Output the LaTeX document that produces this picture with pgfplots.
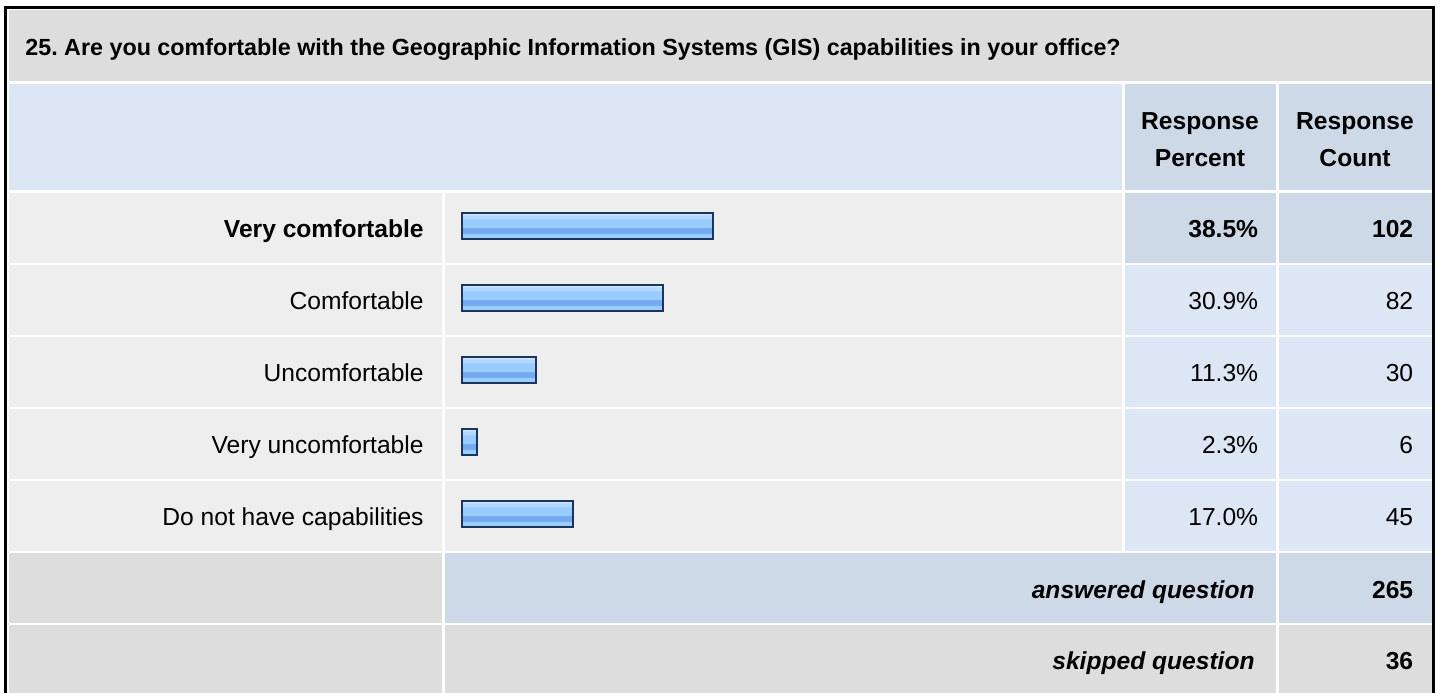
\documentclass[border=0pt]{standalone}
\usepackage{pgfplots}
\pgfplotsset{compat=1.18}
\usepackage{fontspec}
\setmainfont{Liberation Sans}
\frenchspacing
\definecolor{titlegrey}{HTML}{DDDDDD}
\definecolor{hdrblue}{HTML}{DCE6F4}
\definecolor{hiblue}{HTML}{CDD9E6}
\definecolor{rowgrey}{HTML}{EEEEEE}
\definecolor{barnavy}{HTML}{1C355E}
\definecolor{bmid}{HTML}{99CCFF}
\definecolor{bdark}{HTML}{75AAF0}
\definecolor{blight}{HTML}{B3D8FF}
\definecolor{btop}{HTML}{CCE6FF}
\pgfdeclareverticalshading{barshade}{100bp}{color(0bp)=(bmid); color(35bp)=(bmid); color(36.5bp)=(bdark); color(46bp)=(bdark); color(47.5bp)=(bmid); color(63bp)=(bmid); color(65bp)=(blight); color(70.5bp)=(blight); color(72bp)=(btop); color(100bp)=(btop)}
\newcommand{\tf}{\fontsize{12.3}{14.6}\selectfont}
\begin{document}
\begin{tikzpicture}
\begin{scope}[x=0.5pt,y=-0.5pt]
\path[use as bounding box] (0,0) rectangle (1440,692);
% title row
\fill[titlegrey] (8.5,9.5) rectangle (1432,80.5);
% header row
\fill[hdrblue] (8.5,83.5) rectangle (1122,190);
\fill[hiblue] (1124.5,83.5) rectangle (1276,190);
\fill[hiblue] (1279,83.5) rectangle (1432,190);
% data rows
\foreach \k in {0,...,4}{
  \pgfmathsetmacro{\top}{192.5+72*\k}
  \pgfmathsetmacro{\bot}{262.5+72*\k}
  \fill[rowgrey] (8.5,\top) rectangle (442,\bot);
  \fill[rowgrey] (444.5,\top) rectangle (1122,\bot);
}
\fill[hiblue] (1124.5,192.5) rectangle (1276,262.5);
\fill[hiblue] (1279,192.5) rectangle (1432,262.5);
\foreach \k in {1,...,4}{
  \pgfmathsetmacro{\top}{192.5+72*\k}
  \pgfmathsetmacro{\bot}{262.5+72*\k}
  \fill[hdrblue] (1124.5,\top) rectangle (1276,\bot);
  \fill[hdrblue] (1279,\top) rectangle (1432,\bot);
}
% answered row
\fill[titlegrey] (8.5,552.5) rectangle (442,622.5);
\fill[hiblue] (444.5,552.5) rectangle (1276,622.5);
\fill[hiblue] (1279,552.5) rectangle (1432,622.5);
% skipped row
\fill[titlegrey] (8.5,624.5) rectangle (442,700);
\fill[titlegrey] (444.5,624.5) rectangle (1276,700);
\fill[titlegrey] (1279,624.5) rectangle (1432,700);
% outer border
\draw[black,line width=1.6pt] (5.5,700) -- (5.5,7.5) -- (1433.5,7.5) -- (1433.5,700);
\coordinate (barNW) at (462,190);
\end{scope}
\begin{axis}[
  at={(barNW)}, anchor=north west,
  scale only axis, width=326pt, height=180pt,
  xmin=0, xmax=100, ymin=-0.5, ymax=4.5, y dir=reverse,
  hide axis, clip=false,
  mybar/.style={xbar, bar width=13pt, bar shift=0pt, draw=barnavy, line width=1pt, shade, shading=barshade},
]
\addplot[mybar] coordinates {(38.5,0)};
\addplot[mybar] coordinates {(30.9,1)};
\addplot[mybar] coordinates {(11.3,2)};
\addplot[mybar] coordinates {(2.3,3)};
\addplot[mybar] coordinates {(17.0,4)};
\end{axis}
\begin{scope}[x=0.5pt,y=-0.5pt]
\node[anchor=base west,inner sep=0pt,font=\fontsize{11.65}{14}\selectfont\bfseries] at (25,55) {25. Are you comfortable with the Geographic Information Systems (GIS) capabilities in your office?};
\node[anchor=base,inner sep=0pt,font=\tf\bfseries] at (1200,129.5) {Response};
\node[anchor=base,inner sep=0pt,font=\tf\bfseries] at (1200,166) {Percent};
\node[anchor=base,inner sep=0pt,font=\tf\bfseries] at (1355,129.5) {Response};
\node[anchor=base,inner sep=0pt,font=\tf\bfseries] at (1355,166) {Count};
% labels
\node[anchor=base east,inner sep=0pt,font=\tf\bfseries] at (424,237.5) {Very comfortable};
\node[anchor=base east,inner sep=0pt,font=\tf] at (424,309.5) {Comfortable};
\node[anchor=base east,inner sep=0pt,font=\tf] at (424,381.5) {Uncomfortable};
\node[anchor=base east,inner sep=0pt,font=\tf] at (424,453.5) {Very uncomfortable};
\node[anchor=base east,inner sep=0pt,font=\tf] at (424,525.5) {Do not have capabilities};
% percents
\node[anchor=base east,inner sep=0pt,font=\tf\bfseries] at (1258.5,237.5) {38.5\%};
\node[anchor=base east,inner sep=0pt,font=\tf] at (1258.5,309.5) {30.9\%};
\node[anchor=base east,inner sep=0pt,font=\tf] at (1258.5,381.5) {11.3\%};
\node[anchor=base east,inner sep=0pt,font=\tf] at (1258.5,453.5) {2.3\%};
\node[anchor=base east,inner sep=0pt,font=\tf] at (1258.5,525.5) {17.0\%};
% counts
\node[anchor=base east,inner sep=0pt,font=\tf\bfseries] at (1413.5,237.5) {102};
\node[anchor=base east,inner sep=0pt,font=\tf] at (1413.5,309.5) {82};
\node[anchor=base east,inner sep=0pt,font=\tf] at (1413.5,381.5) {30};
\node[anchor=base east,inner sep=0pt,font=\tf] at (1413.5,453.5) {6};
\node[anchor=base east,inner sep=0pt,font=\tf] at (1413.5,525.5) {45};
% footer
\node[anchor=base east,inner sep=0pt,font=\tf\bfseries\itshape] at (1255,598) {answered question};
\node[anchor=base east,inner sep=0pt,font=\tf\bfseries] at (1413.5,598) {265};
\node[anchor=base east,inner sep=0pt,font=\tf\bfseries\itshape] at (1255,669.5) {skipped question};
\node[anchor=base east,inner sep=0pt,font=\tf\bfseries] at (1413.5,669.5) {36};
\end{scope}
\end{tikzpicture}
\end{document}
